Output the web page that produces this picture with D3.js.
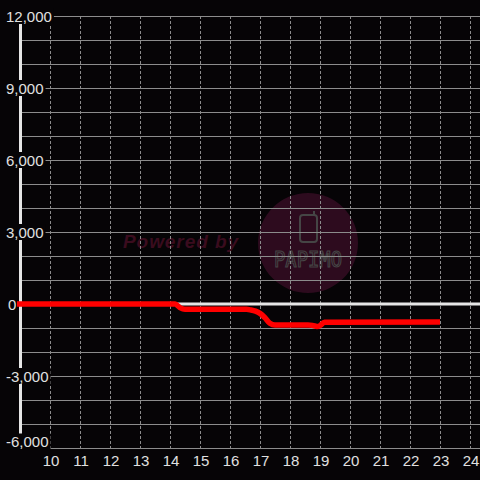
<!DOCTYPE html>
<html>
<head>
<meta charset="utf-8">
<script src="https://cdn.jsdelivr.net/npm/d3@7"></script>
<style>
  html, body { margin: 0; padding: 0; background: #060406; }
  svg { display: block; }
</style>
</head>
<body>
<div id="chart"></div>
<script>
// Time of day (hours) and running balance
const times  = [8.9, 14.17, 14.33, 14.5, 16.55, 16.7, 16.85, 17.0, 17.17, 17.33, 17.5, 18.6, 18.75, 18.9, 19.0, 19.15, 23.0];
const values = [0,   0,     -150,  -220, -220,  -250, -300,  -390, -580,  -800,  -875, -875, -890,  -940,  -900, -760,  -750];

const xTicks = [10, 11, 12, 13, 14, 15, 16, 17, 18, 19, 20, 21, 22, 23, 24];
const yGridTicks = d3.range(-6000, 12001, 1000);
const yLabelTicks = [-6000, -3000, 0, 3000, 6000, 9000, 12000];

const W = 480, H = 480;
const bg = "#060406";
const font = "'Liberation Sans', Arial, sans-serif";

const svg = d3.select("#chart").append("svg")
    .attr("width", W)
    .attr("height", H);

svg.append("rect").attr("width", W).attr("height", H).attr("fill", bg);

const x = d3.scaleLinear().domain([9, 24 + 1 / 3]).range([20, 480]);
const y = d3.scaleLinear().domain([-6000, 12000]).range([448, 16]);

// watermark
const wm = svg.append("g");
wm.append("text")
    .attr("x", 123).attr("y", 248)
    .attr("font-family", font)
    .attr("font-size", 19)
    .attr("font-weight", "bold")
    .attr("font-style", "italic")
    .attr("fill", "#3a0c1e")
    .attr("textLength", 115)
    .text("Powered by");
wm.append("circle")
    .attr("cx", 308).attr("cy", 243).attr("r", 50)
    .attr("fill", "#2d0b1e");
wm.append("rect")
    .attr("x", 300).attr("y", 215).attr("width", 17).attr("height", 27).attr("rx", 3)
    .attr("fill", "none").attr("stroke", "#454545").attr("stroke-width", 2);
wm.append("line")
    .attr("x1", 314).attr("x2", 314).attr("y1", 211).attr("y2", 215)
    .attr("stroke", "#454545").attr("stroke-width", 2);
wm.append("text")
    .attr("x", 274).attr("y", 267)
    .attr("font-family", "'DejaVu Sans Mono', monospace")
    .attr("font-size", 22)
    .attr("fill", "none")
    .attr("stroke", "#454545")
    .attr("stroke-width", 1.2)
    .attr("textLength", 68)
    .attr("lengthAdjust", "spacingAndGlyphs")
    .text("PAPIMO");

// horizontal grid
svg.append("g").selectAll("line")
    .data(yGridTicks)
    .enter().append("line")
    .attr("x1", 21).attr("x2", W)
    .attr("y1", d => y(d) + 0.5).attr("y2", d => y(d) + 0.5)
    .attr("stroke", "#8c8c8c")
    .attr("stroke-width", 1);

// vertical dashed grid
svg.append("g").selectAll("line")
    .data(xTicks)
    .enter().append("line")
    .attr("x1", d => x(d) + 0.5).attr("x2", d => x(d) + 0.5)
    .attr("y1", 16).attr("y2", 448)
    .attr("stroke", "#8c8c8c")
    .attr("stroke-width", 1)
    .attr("stroke-dasharray", "3,2");

// zero line
svg.append("line")
    .attr("x1", 21).attr("x2", W)
    .attr("y1", y(0)).attr("y2", y(0))
    .attr("stroke", "#e6e6e6")
    .attr("stroke-width", 3);

// y axis line
svg.append("line")
    .attr("x1", 20.5).attr("x2", 20.5)
    .attr("y1", 24).attr("y2", 448)
    .attr("stroke", "#e6e6e6")
    .attr("stroke-width", 3);

// y labels with background boxes (bottom one kept above the x labels)
const fmt = d3.format(",");
const yl = svg.append("g").selectAll("g")
    .data(yLabelTicks)
    .enter().append("g");
yl.each(function (d) {
    const g = d3.select(this);
    const cy = Math.min(y(d), 441.5);
    const t = g.append("text")
        .attr("y", cy + 5.5)
        .attr("font-family", font)
        .attr("font-size", 15)
        .attr("fill", "#e0e0e0")
        .text(fmt(d).replace("−", "-"));
    const w = t.node().getComputedTextLength();
    let x0 = 43 - w;
    if (x0 < 6) x0 = 6;
    if (d === 0) x0 = 8;
    t.attr("x", x0);
    g.insert("rect", "text")
        .attr("x", x0 - 1).attr("y", cy - 8)
        .attr("width", w + 3).attr("height", 16)
        .attr("fill", bg);
});

// x labels
svg.append("g").selectAll("text")
    .data(xTicks)
    .enter().append("text")
    .attr("x", d => x(d) + 1)
    .attr("y", 466)
    .attr("text-anchor", "middle")
    .attr("font-family", font)
    .attr("font-size", 15)
    .attr("fill", "#e0e0e0")
    .text(d => d);

// series
const pts = times.map((t, i) => [t, values[i]]);
const line = d3.line()
    .x(d => x(d[0]))
    .y(d => y(d[1]))
    .curve(d3.curveMonotoneX);

svg.append("path")
    .datum(pts)
    .attr("d", line)
    .attr("fill", "none")
    .attr("stroke", "#ff0000")
    .attr("stroke-width", 5.5)
    .attr("stroke-linejoin", "round")
    .attr("stroke-linecap", "butt");
</script>
</body>
</html>
